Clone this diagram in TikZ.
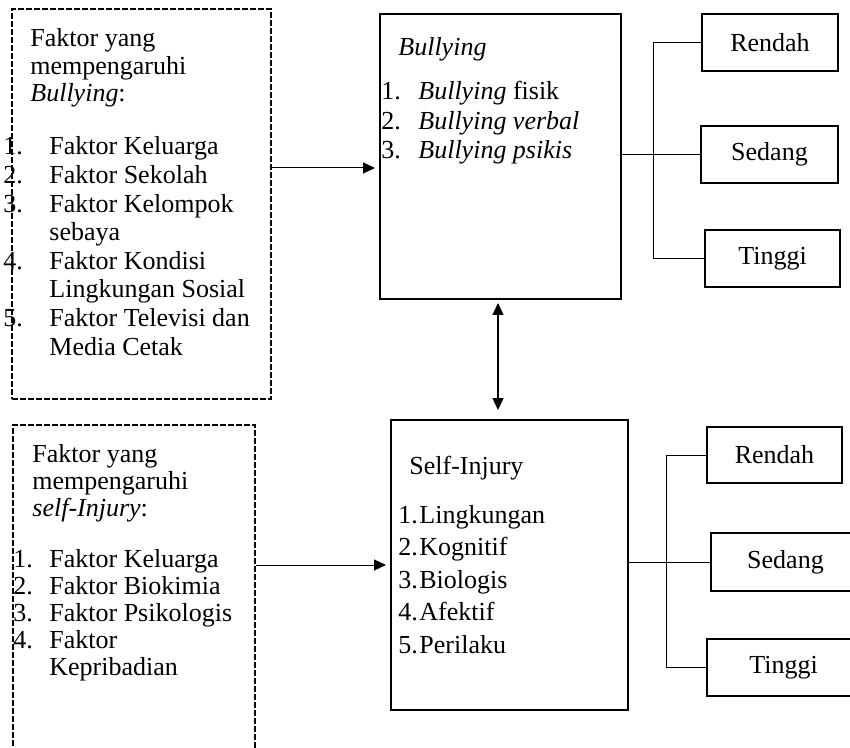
\documentclass[tikz,border=0pt]{standalone}
\usepackage{fontspec}
\setmainfont{Liberation Serif}
\usetikzlibrary{fit,arrows.meta}
\begin{document}
\begin{tikzpicture}[x=0.5pt,y=-0.5pt,
  solidbox/.style={draw, line width=1pt, inner sep=0pt},
  dashbox/.style={draw, line width=0.8pt, dash pattern=on 3pt off 1pt, inner sep=0pt},
  conn/.style={line width=0.5pt},
  arr/.style={line width=0.5pt, -{Triangle[length=6pt,width=5.5pt]}},
  dblarr/.style={line width=0.6pt, {Triangle[length=6pt,width=5.5pt]}-{Triangle[length=6pt,width=5.5pt]}},
  txt/.style={inner sep=0pt, anchor=base west, font=\fontsize{13}{14.3}\selectfont},
  lbl/.style={inner sep=0pt, font=\fontsize{13}{15}\selectfont}]
\useasboundingbox (0,0) rectangle (850,748);
\clip (0,0) rectangle (850,748);
\fill[white] (0,0) rectangle (850,748);

% boxes
\node[dashbox, fit={(12,9) (271,399)}] (fb) {};
\node[dashbox, fit={(13,425) (255,770)}] (fs) {};
\node[solidbox, fit={(380,14) (621,299)}] (bul) {};
\node[solidbox, fit={(391,420) (628,710)}] (si) {};

\node[solidbox, fit={(702,14) (838,71)}] (r1) {};
\node[solidbox, fit={(701,126) (838,183)}] (s1) {};
\node[solidbox, fit={(705,230) (840,287)}] (t1) {};
\node[lbl] (r1t) at (r1.center) {Rendah};
\node[lbl] (s1t) at (s1.center) {Sedang};
\node[lbl] (t1t) at (t1.center) {Tinggi};

\node[solidbox, fit={(707,427) (842,483)}] (r2) {};
\node[solidbox, fit={(711,533) (860,591)}] (s2) {};
\node[solidbox, fit={(707,639) (860,696)}] (t2) {};
\node[lbl] (r2t) at (r2.center) {Rendah};
\node[lbl] (s2t) at (s2.center) {Sedang};
\node[lbl] (t2t) at (t2.center) {Tinggi};

% texts in the top-left box
\node[txt, font=\fontsize{13}{13.7}\selectfont] (fbh) at (30,47)
  {\begin{tabular}[t]{@{}l@{}}Faktor yang\\mempengaruhi\\\textit{Bullying}:\end{tabular}};
\node[txt, font=\fontsize{13}{14.3}\selectfont] (fbl) at (3,155)
  {\begin{tabular}[t]{@{}p{23pt}@{}l@{}}1.&Faktor Keluarga\\2.&Faktor Sekolah\\3.&Faktor Kelompok\\&sebaya\\4.&Faktor Kondisi\\&Lingkungan Sosial\\5.&Faktor Televisi dan\\&Media Cetak\end{tabular}};

% texts in the Bullying box
\node[txt] (bulh) at (398,56) {\textit{Bullying}};
\node[txt, font=\fontsize{13}{14.75}\selectfont] (bull) at (381,100)
  {\begin{tabular}[t]{@{}p{18.5pt}@{}l@{}}1.&\textit{Bullying} fisik\\2.&\textit{Bullying verbal}\\3.&\textit{Bullying psikis}\end{tabular}};

% texts in the bottom-left box
\node[txt, font=\fontsize{13}{13.5}\selectfont] (fsh) at (32,462)
  {\begin{tabular}[t]{@{}l@{}}Faktor yang\\mempengaruhi\\\textit{self-Injury}:\end{tabular}};
\node[txt, font=\fontsize{13}{13.5}\selectfont] (fsl) at (13,567)
  {\begin{tabular}[t]{@{}p{18pt}@{}l@{}}1.&Faktor Keluarga\\2.&Faktor Biokimia\\3.&Faktor Psikologis\\4.&Faktor\\&Kepribadian\end{tabular}};

% texts in the Self-Injury box
\node[txt] (sih) at (409,474) {Self-Injury};
\node[txt, font=\fontsize{13}{16.25}\selectfont] (sil) at (398,523)
  {\begin{tabular}[t]{@{}p{10.5pt}@{}l@{}}1.&Lingkungan\\2.&Kognitif\\3.&Biologis\\4.&Afektif\\5.&Perilaku\end{tabular}};

% arrows
\coordinate (y1) at (0,168);
\draw[arr, shorten >=2pt] (fb.east |- y1) -- (bul.west |- y1);
\draw[arr, shorten >=2pt] (fs.east |- si.west) -- (si.west);
\coordinate (dx) at (498,0);
\draw[dblarr, shorten <=1.5pt, shorten >=4.5pt] (dx |- bul.south) -- (dx |- si.north);

% top bracket
\coordinate (v1) at (653,0);
\draw[conn] (v1 |- r1.west) -- (v1 |- t1.west);
\draw[conn] (v1 |- r1.west) -- (r1.west);
\draw[conn] (bul.east |- s1.west) -- (s1.west);
\draw[conn] (v1 |- t1.west) -- (t1.west);

% bottom bracket
\coordinate (v2) at (666,0);
\draw[conn] (v2 |- r2.west) -- (v2 |- t2.west);
\draw[conn] (v2 |- r2.west) -- (r2.west);
\draw[conn] (si.east |- s2.west) -- (s2.west);
\draw[conn] (v2 |- t2.west) -- (t2.west);
\end{tikzpicture}
\end{document}
